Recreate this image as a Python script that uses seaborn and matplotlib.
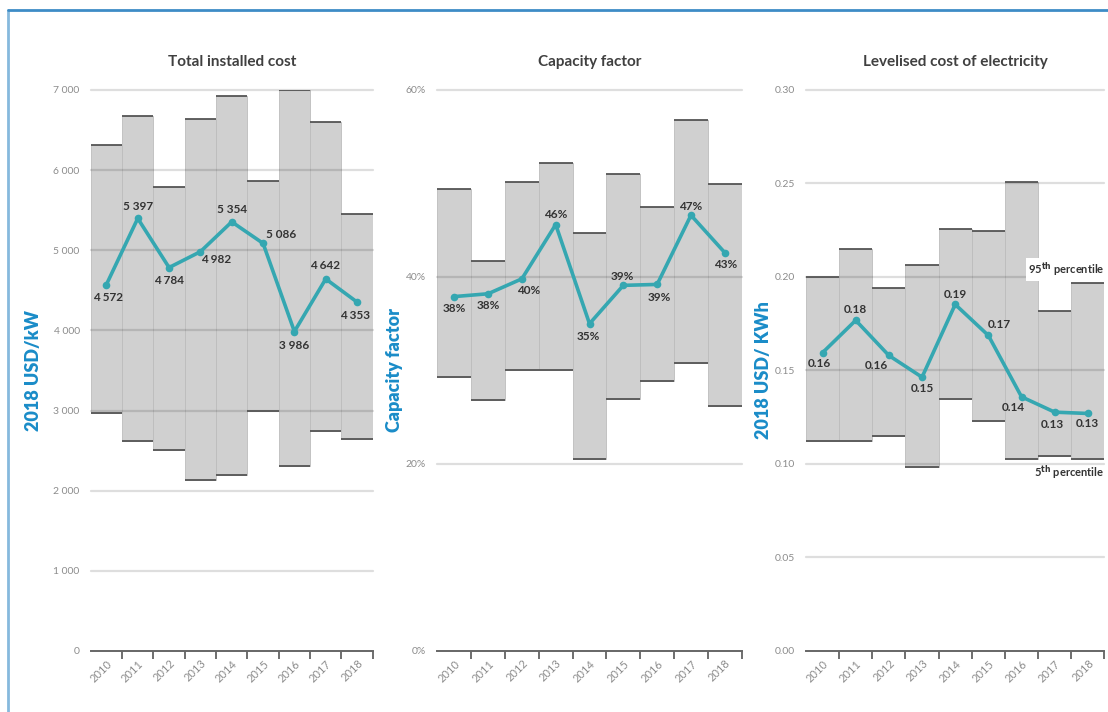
import numpy as np
import pandas as pd
import seaborn as sns
import matplotlib
matplotlib.use('Agg')
import matplotlib.pyplot as plt
from matplotlib.lines import Line2D
from matplotlib.ticker import FuncFormatter

years = ['2010', '2011', '2012', '2013', '2014', '2015', '2016', '2017', '2018']

# total installed cost, 2018 USD/kW
cost_avg = [4572, 5397, 4784, 4982, 5354, 5086, 3986, 4642, 4353]
cost_p95 = [6310, 6670, 5790, 6640, 6930, 5860, 7000, 6600, 5450]
cost_p5 = [2970, 2620, 2510, 2130, 2200, 2990, 2310, 2745, 2640]

# capacity factor, %
cf_avg = [37.9, 38.2, 39.8, 45.6, 35.0, 39.1, 39.2, 46.6, 42.6]
cf_p95 = [49.4, 41.7, 50.2, 52.2, 44.7, 51.0, 47.5, 56.8, 49.9]
cf_p5 = [29.3, 26.8, 30.0, 30.1, 20.5, 26.9, 28.9, 30.8, 26.2]

# levelised cost of electricity, 2018 USD/kWh
lcoe_avg = [0.1595, 0.1768, 0.158, 0.1464, 0.1853, 0.1687, 0.1359, 0.1277, 0.127]
lcoe_p95 = [0.200, 0.215, 0.194, 0.2066, 0.2255, 0.2245, 0.2507, 0.182, 0.197]
lcoe_p5 = [0.1125, 0.1125, 0.1148, 0.0984, 0.135, 0.1228, 0.1028, 0.1044, 0.1028]

# label offsets in pixels (dx, dy)
cost_offs = [(2, -13), (0, 12), (0, -13), (16, -8), (0, 12), (18, 9), (0, -14), (-1, 13), (-2, -13)]
cf_offs = [(0, -12), (0, -12), (7, -12), (0, 10), (-1, -13), (-1, 9), (2, -13), (0, 9), (1, -12)]
lcoe_offs = [(-3, -11), (0, 11), (-12, -10), (0, -11), (0, 10), (11, 11), (-8, -11), (-2, -12), (-1, -10)]

sns.set_theme(style='white')
plt.rcParams['font.family'] = ['Lato', 'DejaVu Sans']

TEAL = '#35a7b1'
BLUE = '#1a8cc8'
BAR = '#d0d0d0'
TICKC = '#8c8c8c'

fig = plt.figure(figsize=(11.08, 7.12), dpi=100)

panels = [
    dict(rect=[0.0819, 0.0857, 0.2545, 0.788], title='Total installed cost', ylabel='2018 USD/kW',
         avg=cost_avg, p95=cost_p95, p5=cost_p5, offs=cost_offs, ylim=(0, 7000),
         yticks=np.arange(0, 7001, 1000),
         lab=lambda v: f'{v:,.0f}'.replace(',', ' '), ylx=-0.173),
    dict(rect=[0.3947, 0.0857, 0.2747, 0.788], title='Capacity factor', ylabel='Capacity factor',
         avg=cf_avg, p95=cf_p95, p5=cf_p5, offs=cf_offs, ylim=(0, 60),
         yticks=np.arange(0, 61, 20),
         lab=lambda v: f'{v:.0f}%', ylx=-0.113),
    dict(rect=[0.7274, 0.0857, 0.2694, 0.788], title='Levelised cost of electricity', ylabel='2018 USD/ KWh',
         avg=lcoe_avg, p95=lcoe_p95, p5=lcoe_p5, offs=lcoe_offs, ylim=(0, 0.30),
         yticks=np.arange(0, 0.301, 0.05),
         lab=lambda v: f'{v:.2f}', ylx=-0.114),
]

x = np.arange(len(years))

for p in panels:
    ax = fig.add_axes(p['rect'])
    top = np.array(p['p95'])
    bot = np.array(p['p5'])

    for t in p['yticks'][1:]:
        ax.axhline(t, color='black', alpha=0.13, lw=1.6, zorder=1.5, clip_on=False)

    ax.bar(x, top - bot, bottom=bot, width=1.0, color=BAR, edgecolor='#bdbdbd',
           linewidth=0.6, zorder=1)
    ax.hlines(top, x - 0.5, x + 0.5, color='#555555', lw=1.3, zorder=2)
    ax.hlines(bot, x - 0.5, x + 0.5, color='#555555', lw=1.3, zorder=2)

    df = pd.DataFrame({'x': x, 'y': p['avg']})
    sns.lineplot(data=df, x='x', y='y', ax=ax, color=TEAL, lw=2.6, marker='o',
                 markersize=5.5, markeredgewidth=0, zorder=3)

    for xi, yi, (dx, dy) in zip(x, p['avg'], p['offs']):
        ax.annotate(p['lab'](yi), (xi, yi), xytext=(dx, dy), textcoords='offset pixels',
                    ha='center', va='center', fontsize=8.5, fontweight='bold',
                    color='#333333', zorder=4)

    ax.set_xlim(-0.5, 8.5)
    ax.set_ylim(*p['ylim'])
    ax.set_yticks(p['yticks'])
    ax.yaxis.set_major_formatter(FuncFormatter(lambda v, pos, f=p['lab']: f(v)))
    ax.tick_params(axis='y', length=0, pad=8, labelsize=7.5, labelcolor=TICKC)

    ax.set_xticks(x + 0.5)
    ax.set_xticklabels([''] * len(x))
    ax.set_xticks(x, minor=True)
    ax.set_xticklabels(years, minor=True, rotation=45, ha='right', rotation_mode='anchor')
    ax.tick_params(axis='x', which='major', direction='out', length=6, width=1.2,
                   color='#555555', bottom=True)
    ax.tick_params(axis='x', which='minor', length=0, pad=5, labelsize=8,
                   labelcolor=TICKC, bottom=True)

    for s in ['top', 'right', 'left']:
        ax.spines[s].set_visible(False)
    ax.spines['bottom'].set_color('#666666')
    ax.spines['bottom'].set_linewidth(1.4)

    ax.set_xlabel('')
    ax.set_ylabel(p['ylabel'], fontsize=13, fontweight='heavy', color=BLUE)
    ax.yaxis.set_label_coords(p['ylx'], 0.5)
    ax.set_title(p['title'], fontsize=11, fontweight='bold', color='#404040', pad=17)
    ax.set_facecolor('white')

    if p['title'].startswith('Levelised'):
        ax.text(1.0, 0.204, r'95$^{\mathbf{th}}$ percentile', transform=ax.get_yaxis_transform(),
                ha='right', va='center', fontsize=8, fontweight='bold', color='#333333', zorder=5,
                bbox=dict(facecolor='white', edgecolor='none', pad=1.5))
        ax.text(1.0, 0.0955, r'5$^{\mathbf{th}}$ percentile', transform=ax.get_yaxis_transform(),
                ha='right', va='center', fontsize=8, fontweight='bold', color='#333333', zorder=5)

# frame lines of the original figure box
fig.add_artist(Line2D([8 / 1108, 8 / 1108], [0, 1 - 10 / 712], transform=fig.transFigure,
                      color='#86b9dd', lw=2))
fig.add_artist(Line2D([8 / 1108, 1], [1 - 10 / 712, 1 - 10 / 712], transform=fig.transFigure,
                      color='#3d8cc6', lw=2))

fig.savefig('out.png', dpi=100, facecolor='white')
